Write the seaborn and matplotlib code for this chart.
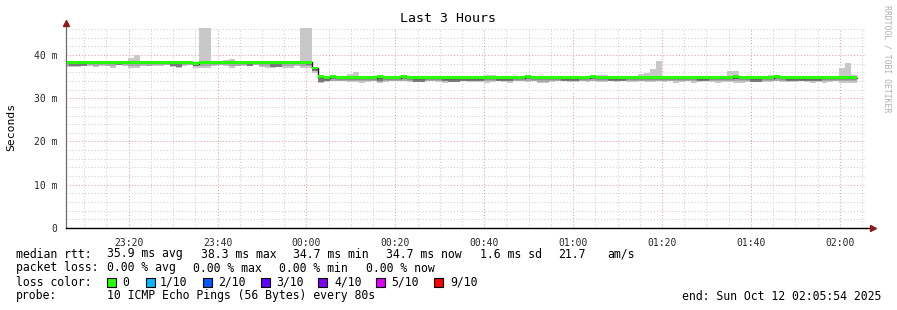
import numpy as np
import matplotlib
matplotlib.use("Agg")
import matplotlib.pyplot as plt
from matplotlib.ticker import MultipleLocator, FixedLocator
from matplotlib.patches import Rectangle
import seaborn as sns

# ---------------- data ----------------
title = "Last 3 Hours"
y_label = "Seconds"
start_time = "23:05:14"      # start of first 80 s consolidation step
step_seconds = 80
window_start = "23:05:54"
window_end = "02:05:54"
x_tick_labels = ["23:20", "23:40", "00:00", "00:20", "00:40", "01:00", "01:20", "01:40", "02:00"]
y_ticks = [0, 10, 20, 30, 40]
y_tick_labels = ["0", "10 m", "20 m", "30 m", "40 m"]
y_max = 46.24

# median rtt per step (ms)
median = [
    38.3, 38.3, 38.3, 38.3, 38.3, 38.3, 38.3, 38.3, 38.3, 38.3,
    38.3, 38.3, 38.3, 38.3, 38.3, 38.3, 38.3, 38.3, 38.3, 38.3,
    38.3, 38.3, 38.0, 38.3, 38.3, 38.3, 38.3, 38.3, 38.3, 38.3,
    38.3, 38.3, 38.3, 38.3, 38.3, 38.3, 38.3, 38.3, 38.3, 38.3,
    38.3, 38.3, 37.0, 35.0, 34.7, 35.0, 34.7, 34.7, 34.7, 34.7,
    34.7, 34.7, 34.7, 35.0, 34.7, 34.7, 34.7, 35.0, 34.7, 34.7,
    34.7, 34.7, 34.7, 34.7, 34.7, 34.7, 34.7, 34.7, 34.7, 34.7,
    34.7, 34.7, 34.7, 34.7, 34.7, 34.7, 34.7, 34.7, 35.0, 34.7,
    34.7, 34.7, 34.7, 34.7, 34.7, 34.7, 34.7, 34.7, 34.7, 35.0,
    34.7, 34.7, 34.7, 34.7, 34.7, 34.7, 34.7, 34.7, 34.7, 34.7,
    34.7, 34.7, 34.7, 34.7, 34.7, 34.7, 34.7, 34.7, 34.7, 34.7,
    34.7, 34.7, 34.7, 35.0, 34.7, 34.7, 34.7, 34.7, 34.7, 34.7,
    35.0, 34.7, 34.7, 34.7, 34.7, 34.7, 34.7, 34.7, 34.7, 34.7,
    34.7, 34.7, 34.7, 34.7,
]

# slowest ping per step (top of light smoke)
ping_max = [
    38.6, 38.6, 38.6, 38.6, 38.6, 38.6, 38.6, 38.6, 38.6, 38.6,
    38.6, 39.4, 39.9, 38.6, 38.6, 38.6, 38.6, 38.6, 38.6, 38.6,
    38.6, 38.6, 38.4, 48.0, 48.0, 38.6, 38.6, 38.9, 39.1, 38.6,
    38.6, 38.6, 38.6, 38.6, 38.6, 38.6, 38.6, 38.6, 38.6, 38.6,
    48.0, 48.0, 37.1, 35.3, 35.0, 35.2, 35.0, 35.0, 35.7, 36.0,
    35.0, 35.0, 35.0, 35.4, 35.0, 35.0, 35.0, 35.2, 35.0, 35.0,
    35.0, 35.0, 35.0, 35.0, 35.0, 35.0, 35.0, 35.0, 35.0, 35.0,
    35.0, 35.4, 35.4, 35.0, 35.0, 35.0, 35.0, 35.0, 35.2, 35.1,
    35.1, 35.1, 35.0, 35.0, 35.0, 35.0, 35.0, 35.0, 35.0, 35.2,
    35.4, 35.4, 35.0, 35.0, 35.0, 35.0, 35.0, 35.6, 35.9, 36.8,
    38.5, 35.0, 35.0, 35.0, 35.0, 35.0, 35.0, 35.0, 35.0, 35.0,
    35.0, 35.0, 36.4, 36.4, 35.0, 35.0, 35.0, 35.0, 35.0, 35.4,
    35.4, 35.0, 35.0, 35.0, 35.0, 35.1, 35.1, 35.1, 35.1, 35.0,
    35.0, 37.1, 38.2, 35.4,
]

# fastest ping per step (bottom of light smoke)
ping_min = [
    37.2, 37.2, 37.3, 37.4, 37.5, 37.3, 37.5, 37.4, 37.1, 37.6,
    37.5, 37.1, 37.1, 37.5, 37.4, 37.5, 37.5, 37.6, 37.3, 37.1,
    37.5, 37.6, 37.1, 37.1, 37.1, 37.5, 37.6, 37.5, 37.1, 37.4,
    37.5, 37.6, 37.6, 37.3, 37.1, 37.1, 37.2, 37.1, 37.1, 37.5,
    37.1, 37.1, 35.8, 33.6, 33.7, 34.0, 34.0, 34.0, 33.7, 33.7,
    33.6, 33.7, 34.0, 33.6, 33.7, 34.0, 34.0, 34.0, 33.7, 33.7,
    33.7, 33.9, 34.0, 33.8, 33.6, 33.7, 33.9, 34.0, 33.8, 33.8,
    33.7, 33.6, 33.8, 33.9, 33.7, 33.6, 33.9, 34.0, 33.8, 33.9,
    33.5, 33.5, 33.8, 33.9, 34.0, 33.7, 33.8, 34.0, 33.8, 33.9,
    33.7, 33.7, 33.9, 33.8, 33.9, 33.7, 33.8, 33.9, 33.8, 33.8,
    34.0, 33.8, 33.9, 33.6, 33.8, 33.9, 33.6, 33.8, 33.9, 33.8,
    33.6, 33.7, 33.8, 33.6, 33.6, 33.8, 33.9, 33.8, 33.8, 33.7,
    33.9, 33.8, 33.7, 33.7, 33.9, 33.8, 33.6, 33.8, 33.6, 33.8,
    33.9, 33.6, 33.6, 33.6,
]

# second ping (bottom of mid-grey smoke)
ping_mid_low = [
    37.4, 37.4, 37.4, 37.5, 37.6, 37.5, 37.6, 37.5, 37.4, 37.6,
    37.6, 37.4, 37.4, 37.6, 37.5, 37.6, 37.6, 37.6, 37.4, 37.3,
    37.6, 37.6, 37.4, 37.4, 37.4, 37.6, 37.6, 37.6, 37.4, 37.5,
    37.6, 37.6, 37.6, 37.5, 37.4, 37.3, 37.3, 37.4, 37.4, 37.6,
    37.4, 37.4, 36.2, 33.8, 33.9, 34.1, 34.1, 34.1, 34.0, 34.0,
    33.9, 34.0, 34.1, 33.8, 34.0, 34.1, 34.1, 34.1, 34.0, 33.9,
    33.9, 34.1, 34.1, 34.0, 33.9, 33.8, 34.1, 34.1, 33.9, 34.0,
    34.0, 33.9, 34.0, 34.0, 33.9, 33.9, 34.1, 34.1, 34.0, 34.1,
    33.8, 33.8, 34.0, 34.1, 34.1, 34.0, 34.0, 34.1, 34.0, 34.1,
    34.0, 34.0, 34.1, 33.9, 33.9, 34.0, 34.0, 34.1, 34.0, 34.0,
    34.1, 34.0, 34.1, 33.9, 34.0, 34.1, 33.9, 33.9, 34.0, 34.0,
    33.9, 34.0, 34.0, 33.9, 33.9, 34.0, 33.8, 33.8, 34.0, 34.0,
    34.1, 34.0, 33.9, 33.9, 33.9, 34.0, 33.9, 33.9, 33.9, 34.0,
    34.1, 33.9, 33.9, 33.9,
]

# fourth ping (bottom of dark core smoke)
ping_core_low = [
    38.0, 37.4, 37.4, 37.5, 38.0, 38.0, 38.0, 38.0, 38.0, 37.7,
    38.0, 38.0, 38.0, 38.0, 38.0, 38.0, 38.0, 38.0, 37.5, 37.3,
    38.0, 38.0, 37.4, 38.0, 38.0, 38.0, 38.0, 38.0, 38.0, 38.0,
    38.0, 37.5, 38.0, 38.0, 38.0, 37.3, 37.3, 38.0, 38.0, 38.0,
    38.0, 37.6, 36.4, 33.8, 34.1, 34.7, 34.4, 34.4, 34.4, 34.4,
    34.4, 34.4, 34.4, 34.1, 34.4, 34.4, 34.4, 34.7, 34.4, 33.8,
    33.8, 34.4, 34.4, 34.4, 33.9, 33.8, 33.8, 33.9, 34.1, 34.1,
    34.1, 34.4, 34.4, 33.9, 33.9, 33.9, 34.4, 34.4, 34.7, 34.4,
    34.4, 34.4, 34.4, 34.4, 34.1, 34.1, 34.1, 34.4, 34.4, 34.7,
    34.4, 34.4, 34.0, 34.0, 34.0, 34.4, 34.4, 34.4, 34.4, 34.4,
    34.4, 34.4, 34.4, 34.4, 34.4, 34.4, 34.4, 34.0, 34.0, 34.4,
    34.4, 34.4, 34.4, 34.4, 34.4, 34.4, 33.7, 33.7, 34.4, 34.4,
    34.7, 34.4, 33.9, 33.9, 33.9, 34.0, 34.0, 34.0, 34.4, 34.4,
    34.4, 34.4, 34.4, 34.4,
]

loss_labels = ["0", "1/10", "2/10", "3/10", "4/10", "5/10", "9/10"]
loss_colors = ["#26ff00", "#00b8ff", "#0059ff", "#5e00ff", "#7e00ff", "#dd00ff", "#ff0000"]

legend_rtt = [("median rtt:", 16), ("35.9 ms avg", 107), ("38.3 ms max", 200.5),
              ("34.7 ms min", 293), ("34.7 ms now", 386), ("1.6 ms sd", 479.5),
              ("21.7", 558), ("am/s", 607)]
legend_loss = [("packet loss:", 16), ("0.00 % avg", 107), ("0.00 % max", 193),
               ("0.00 % min", 279), ("0.00 % now", 366)]
probe_text = "10 ICMP Echo Pings (56 Bytes) every 80s"
end_text = "end: Sun Oct 12 02:05:54 2025"
credit_text = "RRDTOOL / TOBI OETIKER"

# ---------------- helpers ----------------
def to_minutes(s):
    parts = [int(p) for p in s.split(":")]
    h, m = parts[0], parts[1]
    sec = parts[2] if len(parts) > 2 else 0
    mins = h * 60 + m + sec / 60.0
    if h < 12:
        mins += 24 * 60
    return mins - 23 * 60

n = len(median)
for arr in (ping_max, ping_min, ping_mid_low, ping_core_low):
    assert len(arr) == n

x_edges = to_minutes(start_time) + np.arange(n + 1) * step_seconds / 60.0
def ext(a):
    a = np.asarray(a, dtype=float)
    return np.append(a, a[-1])

med = ext(median)
band = 0.33

# ---------------- figure ----------------
sns.set_theme(style="white")
plt.rcParams["font.family"] = ["DejaVu Sans Mono"]

W, H = 897, 310
fig = plt.figure(figsize=(W / 100, H / 100), dpi=100, facecolor="white")
ax = fig.add_axes([66 / W, 82 / H, 800 / W, 200 / H])
ax.set_facecolor("white")

# smoke
ax.fill_between(x_edges, ext(ping_min), ext(ping_max), step="post",
                color="#c8c8c8", lw=0, zorder=2)
ax.fill_between(x_edges, ext(ping_mid_low), med + 0.3, step="post",
                color="#a8a8a8", lw=0, zorder=3)
ax.fill_between(x_edges, ext(ping_core_low), med, step="post",
                color="#7a7a7a", lw=0, zorder=4)
# median line (black) and loss-coloured band
sns.lineplot(x=x_edges, y=med, drawstyle="steps-post", color="#202020",
             lw=1.0, ax=ax, estimator=None, sort=False, zorder=5)
ax.fill_between(x_edges, med - band, med + band, step="post",
                color=loss_colors[0], lw=0, zorder=6)

# axes limits / ticks
ax.set_xlim(to_minutes(window_start), to_minutes(window_end))
ax.set_ylim(0, y_max)
ax.xaxis.set_major_locator(FixedLocator([to_minutes(t) for t in x_tick_labels]))
ax.set_xticklabels(x_tick_labels)
ax.xaxis.set_minor_locator(MultipleLocator(5))
ax.set_yticks(y_ticks)
ax.set_yticklabels(y_tick_labels)
ax.yaxis.set_minor_locator(MultipleLocator(2))

ax.tick_params(axis="both", which="major", labelsize=7, length=3, width=0.7,
               color="#909090", direction="out", pad=3)
ax.tick_params(axis="x", which="major", pad=4)
ax.tick_params(axis="both", which="minor", length=0)

ax.set_axisbelow(True)
ax.grid(which="minor", color="#cfcfcf", linestyle=(0, (1, 2)), lw=0.75)
ax.grid(which="major", color="#f29a9a", linestyle=(0, (1, 2)), lw=0.75)

for s in ("top", "right"):
    ax.spines[s].set_visible(False)
ax.spines["left"].set_color("#6e6e6e")
ax.spines["left"].set_linewidth(0.9)
ax.spines["bottom"].set_color("black")
ax.spines["bottom"].set_linewidth(1.0)
ax.spines["left"].set_zorder(7)
ax.spines["bottom"].set_zorder(7)

# axis extensions + arrows
ax.plot([0, 0], [1, 1 + 3 / 200], transform=ax.transAxes, color="#6e6e6e",
        lw=0.9, clip_on=False)
ax.plot([1, 1 + 5 / 800], [0, 0], transform=ax.transAxes, color="black",
        lw=1.0, clip_on=False)
ax.plot([0], [1 + 5 / 200], marker="^", ms=5, color="#8b1a1a",
        transform=ax.transAxes, clip_on=False)
ax.plot([1 + 7 / 800], [0], marker=">", ms=5, color="#8b1a1a",
        transform=ax.transAxes, clip_on=False)

# ---------------- texts ----------------
def fx(px):
    return px / W

def fy(py):
    return 1 - py / H

fig.text(fx(448), fy(19), title, ha="center", va="center", fontsize=9.5, color="black")
fig.text(fx(11), fy(127), y_label, ha="center", va="center", rotation=90,
         fontsize=8.2, color="black")
fig.text(fx(887), fy(59), credit_text, ha="center", va="center", rotation=270,
         fontsize=5.9, color="#b0b0b0")

fs = 8.3
for txt, x in legend_rtt:
    fig.text(fx(x), fy(257.5), txt, ha="left", va="baseline", fontsize=fs, color="black")
for txt, x in legend_loss:
    fig.text(fx(x), fy(271.5), txt, ha="left", va="baseline", fontsize=fs, color="black")

fig.text(fx(16), fy(285.5), "loss color:", ha="left", va="baseline", fontsize=fs, color="black")
box_x = [107, 146, 203, 261, 318, 376, 434]
lab_x = [122, 160, 218, 276, 334, 391, 450]
for col, lab, bx, lx in zip(loss_colors, loss_labels, box_x, lab_x):
    fig.patches.append(Rectangle((fx(bx), fy(286.5)), 8.5 / W, 8.5 / H,
                                 transform=fig.transFigure, facecolor=col,
                                 edgecolor="black", lw=0.8))
    fig.text(fx(lx), fy(285.5), lab, ha="left", va="baseline", fontsize=fs, color="black")

fig.text(fx(16), fy(299.5), "probe:", ha="left", va="baseline", fontsize=fs, color="black")
fig.text(fx(107), fy(299.5), probe_text, ha="left", va="baseline", fontsize=fs, color="black")
fig.text(fx(881), fy(299.5), end_text, ha="right", va="baseline", fontsize=fs, color="black")

fig.savefig("out.png", dpi=100, facecolor="white")
